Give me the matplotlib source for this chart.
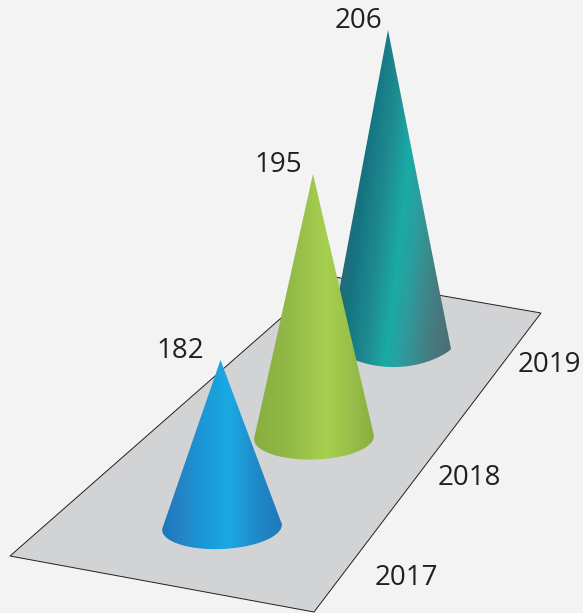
import numpy as np
import matplotlib
matplotlib.use("Agg")
import matplotlib.pyplot as plt
from matplotlib.colors import to_rgb
from matplotlib.patches import Polygon, PathPatch
from matplotlib.path import Path

years = ["2017", "2018", "2019"]
values = [182, 195, 206]

BG = "#f3f3f3"
FLOOR = "#d1d3d4"
plt.rcParams["font.family"] = ["Open Sans", "DejaVu Sans"]

# pictorial scale: pixels of cone height per unit of value above the baseline
VALUE_BASE, PX_PER_UNIT = 150, 5.6
stretch = [0.932, 1.046, 1.011]
base_centres = [(222, 527), (314, 437.5), (390, 347)]
half_widths = [60, 60, 61]
depths = [22, 22, 20]
tilts = [-2.5, -1.5, 2.0]       # half the height difference of the base ends
lean = [-1.5, -1, -2]
arc_power = [0.5, 0.5, 0.85]
skews = [0.0, 0.0, -0.115]
gradients = [
    [(0, "#1877bd"), (0.12, "#2580c2"), (0.38, "#199cd9"), (0.56, "#1ba9e2"), (0.8, "#2088c8"), (1, "#2179b9")],
    [(0, "#88ae40"), (0.3, "#92ba47"), (0.6, "#a7d04f"), (0.8, "#98c04a"), (1, "#88ae40")],
    [(0, "#2d6675"), (0.12, "#147480"), (0.3, "#1f8a90"), (0.48, "#1aaba5"), (0.62, "#2f9a9b"), (0.8, "#437f83"), (1, "#4f6c74")],
]
floor_corners = [(10, 556), (314, 612), (541, 313), (329, 276)]
value_label_pos = [(180, 351), (278, 165), (358.5, 21)]
year_label_pos = [(406, 578), (469, 478), (549, 365)]

fig = plt.figure(figsize=(5.83, 6.13), dpi=100, facecolor=BG)
ax = fig.add_axes([0, 0, 1, 1])
ax.set_facecolor(BG)
ax.axis("off")

ax.add_patch(Polygon(floor_corners, closed=True, facecolor=FLOOR,
                     edgecolor="#231f20", linewidth=0.7, zorder=1))


def draw_cone(i, z):
    cx, cy = base_centres[i]
    a, b = half_widths[i], depths[i]
    h = (values[i] - VALUE_BASE) * PX_PER_UNIT * stretch[i]
    apex = (cx + lean[i], cy - h)
    s = np.linspace(1, -1, 160)
    xs = cx + a * s
    ys = cy + tilts[i] * s + b * (1 - s ** 2) ** arc_power[i]
    verts = [apex] + list(zip(xs, ys)) + [apex]
    codes = [Path.MOVETO] + [Path.LINETO] * (len(verts) - 2) + [Path.CLOSEPOLY]
    path = Path(verts, codes)

    x0, x1 = cx - a - 2, cx + a + 2
    y0, y1 = apex[1] - 2, cy + b + 4
    gx = np.arange(x0, x1, 0.5)
    gy = np.arange(y0, y1, 0.5)
    X, Y = np.meshgrid(gx, gy)
    t = (X - skews[i] * (Y - cy) - (cx - a)) / (2 * a)
    stops = [p for p, _ in gradients[i]]
    cols = np.array([to_rgb(c) for _, c in gradients[i]])
    img = np.dstack([np.interp(t, stops, cols[:, k]) for k in range(3)])
    im = ax.imshow(img, extent=(x0, x1, y1, y0), origin="upper",
                   interpolation="bilinear", aspect="auto", zorder=z)
    clip = PathPatch(path, transform=ax.transData, facecolor="none", edgecolor="none")
    ax.add_patch(clip)
    im.set_clip_path(clip)


for idx, zorder in zip([2, 1, 0], [2, 3, 4]):
    draw_cone(idx, zorder)

ax.set_xlim(0, 583)
ax.set_ylim(613, 0)

for v, (x, y) in zip(values, value_label_pos):
    ax.text(x, y, str(v), ha="center", va="center", fontsize=20, color="#231f20", zorder=6)
for yr, (x, y) in zip(years, year_label_pos):
    ax.text(x, y, yr, ha="center", va="center", fontsize=20, color="#231f20", zorder=6)

fig.savefig("out.png", dpi=100, facecolor=BG)
